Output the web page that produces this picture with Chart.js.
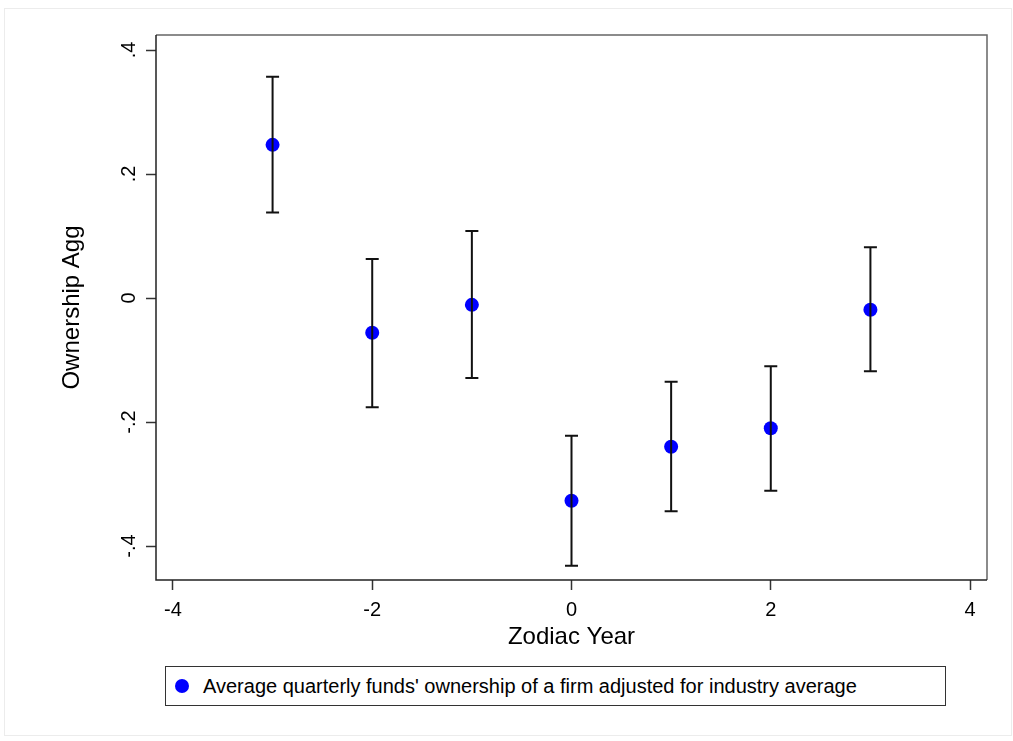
<!DOCTYPE html>
<html>
<head>
<meta charset="utf-8">
<title>Ownership Agg by Zodiac Year</title>
<script src="https://cdn.jsdelivr.net/npm/chart.js@4.4.1/dist/chart.umd.min.js"></script>
<style>
  html, body { margin: 0; padding: 0; background: #fff; }
  #wrap { position: relative; width: 1013px; height: 741px; overflow: hidden; }
  #outer { position: absolute; left: 4px; top: 8px; width: 1008px; height: 728px; border: 1px solid #ececec; box-sizing: border-box; }
  #chart { position: absolute; left: 0; top: 0; }
  #legend {
    position: absolute; left: 165px; top: 666px; width: 781px; height: 40px;
    border: 1px solid #333; box-sizing: border-box; background: #fff;
    font-family: "Liberation Sans", Arial, Helvetica, sans-serif; font-size: 20px; color: #000;
  }
  #legend .dot { position: absolute; left: 9px; top: 12px; width: 14px; height: 14px; border-radius: 50%; background: #0000ff; }
  #legend .txt { position: absolute; left: 37px; top: 0; line-height: 38px; white-space: nowrap; }
</style>
</head>
<body>
<div id="wrap">
  <div id="outer"></div>
  <canvas id="chart" width="1013" height="741"></canvas>
  <div id="legend"><span class="dot"></span><span class="txt">Average quarterly funds' ownership of a firm adjusted for industry average</span></div>
</div>
<script>
// point estimates with confidence bands
const years = [-3, -2, -1, 0, 1, 2, 3];
const estimates = [0.247, -0.056, -0.011, -0.327, -0.240, -0.210, -0.019];
const upperCI = [0.357, 0.063, 0.108, -0.222, -0.135, -0.110, 0.082];
const lowerCI = [0.138, -0.176, -0.129, -0.432, -0.344, -0.311, -0.118];

const xTicks = [-4, -2, 0, 2, 4];
const yTicks = [-0.4, -0.2, 0, 0.2, 0.4];
const yTickLabels = ['-.4', '-.2', '0', '.2', '.4'];

Chart.defaults.font.family = "'Liberation Sans', Arial, Helvetica, sans-serif";
Chart.defaults.color = '#000';

// ── Frame: dark left/bottom axes, grey top/right ──
const framePlugin = {
  id: 'frame',
  beforeDatasetsDraw(chart) {
    const { ctx, chartArea: a } = chart;
    ctx.save();
    ctx.lineWidth = 1.5;
    ctx.strokeStyle = '#666';
    ctx.beginPath();
    ctx.moveTo(a.left, a.top); ctx.lineTo(a.right, a.top); ctx.lineTo(a.right, a.bottom);
    ctx.stroke();
    ctx.strokeStyle = '#222';
    ctx.beginPath();
    ctx.moveTo(a.left, a.top); ctx.lineTo(a.left, a.bottom); ctx.lineTo(a.right, a.bottom);
    ctx.stroke();
    ctx.restore();
  }
};

// ── Error bars, drawn over the markers ──
const errorBarPlugin = {
  id: 'errorBars',
  afterDatasetsDraw(chart) {
    const { ctx, scales: { x, y } } = chart;
    const cap = 6.5;
    ctx.save();
    ctx.strokeStyle = '#111';
    ctx.lineWidth = 2;
    years.forEach((yr, i) => {
      const px = x.getPixelForValue(yr);
      const top = y.getPixelForValue(upperCI[i]);
      const bot = y.getPixelForValue(lowerCI[i]);
      ctx.beginPath();
      ctx.moveTo(px, top); ctx.lineTo(px, bot);
      ctx.moveTo(px - cap, top); ctx.lineTo(px + cap, top);
      ctx.moveTo(px - cap, bot); ctx.lineTo(px + cap, bot);
      ctx.stroke();
    });
    ctx.restore();
  }
};

new Chart(document.getElementById('chart'), {
  type: 'scatter',
  data: {
    datasets: [{
      label: "Average quarterly funds' ownership of a firm adjusted for industry average",
      data: years.map((yr, i) => ({ x: yr, y: estimates[i] })),
      backgroundColor: '#0000ff',
      borderWidth: 0,
      pointRadius: 7,
      pointHoverRadius: 7,
    }]
  },
  options: {
    responsive: false,
    animation: false,
    events: [],
    layout: { padding: { top: 35, right: 26, left: 0, bottom: 0 } },
    plugins: {
      legend: { display: false },
      tooltip: { enabled: false }
    },
    scales: {
      x: {
        type: 'linear',
        min: -4.17,
        max: 4.17,
        afterBuildTicks: s => { s.ticks = xTicks.map(v => ({ value: v })); },
        afterFit: s => { s.height = 161; },
        border: { display: false },
        grid: { drawOnChartArea: false, drawTicks: true, tickLength: 10, tickColor: '#333', tickWidth: 1.5 },
        ticks: { font: { size: 20 }, color: '#000', padding: 8, maxRotation: 0 },
        title: { display: true, text: 'Zodiac Year', font: { size: 24 }, color: '#000', padding: { top: 0, bottom: 89 } }
      },
      y: {
        type: 'linear',
        min: -0.4548,
        max: 0.4242,
        afterBuildTicks: s => { s.ticks = yTicks.map(v => ({ value: v })); },
        afterFit: s => { s.width = 156; },
        border: { display: false },
        grid: { drawOnChartArea: false, drawTicks: true, tickLength: 10, tickColor: '#333', tickWidth: 1.5 },
        ticks: {
          font: { size: 20 }, color: '#000', padding: 5,
          minRotation: 90, maxRotation: 90, crossAlign: 'center',
          callback: (v, i) => yTickLabels[i]
        },
        title: { display: true, text: 'Ownership Agg', font: { size: 24 }, color: '#000', padding: { top: 58, bottom: 0 } }
      }
    }
  },
  plugins: [framePlugin, errorBarPlugin]
});
</script>
</body>
</html>
